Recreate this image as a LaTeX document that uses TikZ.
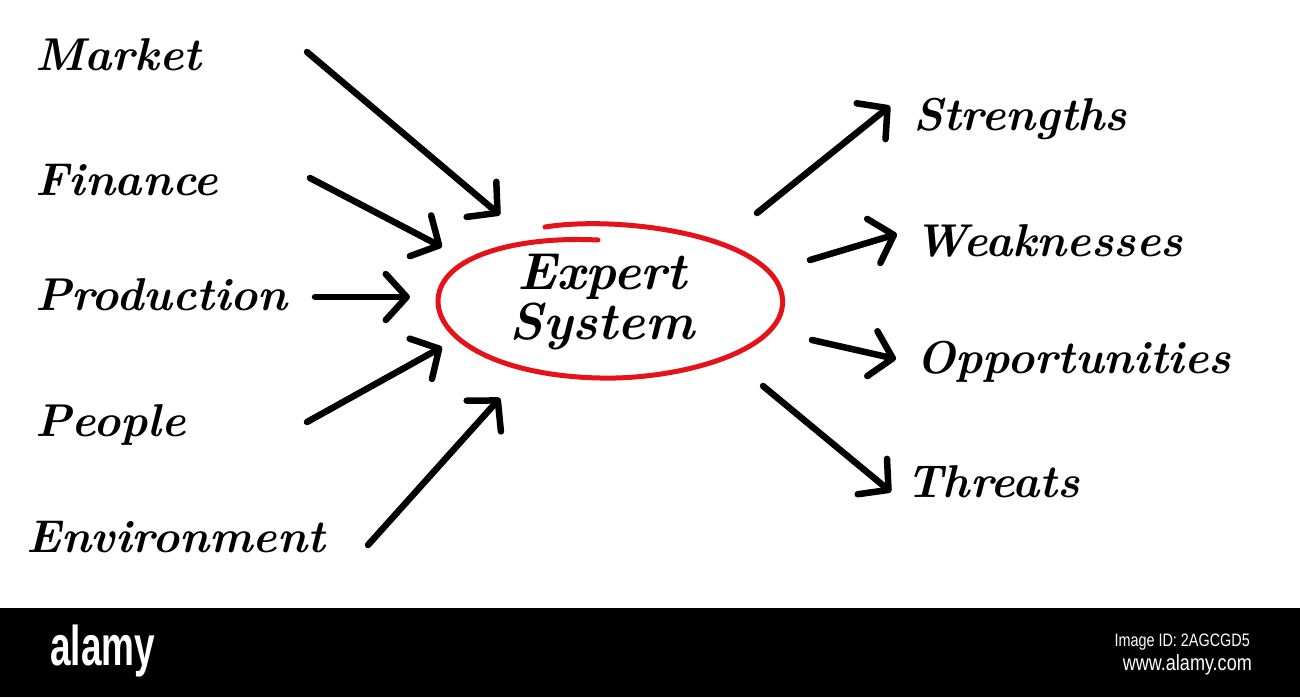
\documentclass[tikz,border=0pt]{standalone}
\usepackage{fontspec}
\newfontfamily\logofont{Liberation Sans}
\usetikzlibrary{arrows.meta}
\begin{document}
\begin{tikzpicture}[x=1pt,y=-1pt,
  lbl/.style={inner sep=0pt, font=\fontsize{46}{50}\selectfont\bfseries\itshape, anchor=base west},
  arr/.style={line width=6.5pt, line cap=round, line join=round,
    -{Straight Barb[length=21pt,width=46pt,line cap=round,line join=round]}},
  ring/.style={line width=5pt, draw=ringred, line cap=round}]
\definecolor{ringred}{HTML}{E5121A}
\useasboundingbox (0,0) rectangle (1300,697);
\fill[white] (0,0) rectangle (1300,697);
% left labels
\node[lbl] (market) at (35,70) {Market};
\node[lbl] (finance) at (35,195) {Finance};
\node[lbl] (production) at (35,310) {Production};
\node[lbl] (people) at (35,436) {People};
\node[lbl] (environment) at (26,552) {Environment};
% right labels
\node[lbl] (strengths) at (913,130) {Strengths};
\node[lbl] (weaknesses) at (914,256) {Weaknesses};
\node[lbl] (opportunities) at (916,373) {Opportunities};
\node[lbl] (threats) at (906,497) {Threats};
% centre
\node[inner sep=0pt, font=\fontsize{52}{50}\selectfont\bfseries\itshape, align=center] (expert) at (602,302) {Expert\\System};
\draw[ring] (545,227) .. controls (620,215) and (770,235) .. (782,295)
  .. controls (792,350) and (680,380) .. (600,378)
  .. controls (500,376) and (437,340) .. (438,300)
  .. controls (440,255) and (520,236) .. (598,240);
% arrow coordinates
\coordinate (m1) at (307,52);  \coordinate (m2) at (500,215);
\coordinate (f1) at (310,178); \coordinate (f2) at (442,247);
\coordinate (p1) at (315,297); \coordinate (p2) at (410,297);
\coordinate (e1) at (307,422); \coordinate (e2) at (442,347);
\coordinate (v1) at (368,545); \coordinate (v2) at (500,398);
\coordinate (s1) at (757,213); \coordinate (s2) at (890,106);
\coordinate (w1) at (810,260); \coordinate (w2) at (897,234);
\coordinate (o1) at (812,340); \coordinate (o2) at (896,359);
\coordinate (t1) at (763,386); \coordinate (t2) at (891,492);
\draw[arr] (m1) -- (m2);
\draw[arr] (f1) -- (f2);
\draw[arr] (p1) -- (p2);
\draw[arr] (e1) -- (e2);
\draw[arr] (v1) -- (v2);
\draw[arr] (s1) -- (s2);
\draw[arr] (w1) -- (w2);
\draw[arr] (o1) -- (o2);
\draw[arr] (t1) -- (t2);
% footer bar
\fill[black] (0,608) rectangle (1300,697);
\node[inner sep=0pt, text=white, font=\logofont\bfseries\fontsize{56}{60}\selectfont, anchor=base west] (logo) at (50,665) {\scalebox{0.66}[1]{alamy}};
\node[inner sep=0pt, text=white, font=\logofont\fontsize{18}{20}\selectfont, anchor=base east] (imgid) at (1250,646) {\scalebox{0.8}[1]{Image ID: 2AGCGD5}};
\node[inner sep=0pt, text=white, font=\logofont\fontsize{22}{24}\selectfont, anchor=base east] (url) at (1252,670) {\scalebox{0.82}[1]{www.alamy.com}};
\end{tikzpicture}
\end{document}
